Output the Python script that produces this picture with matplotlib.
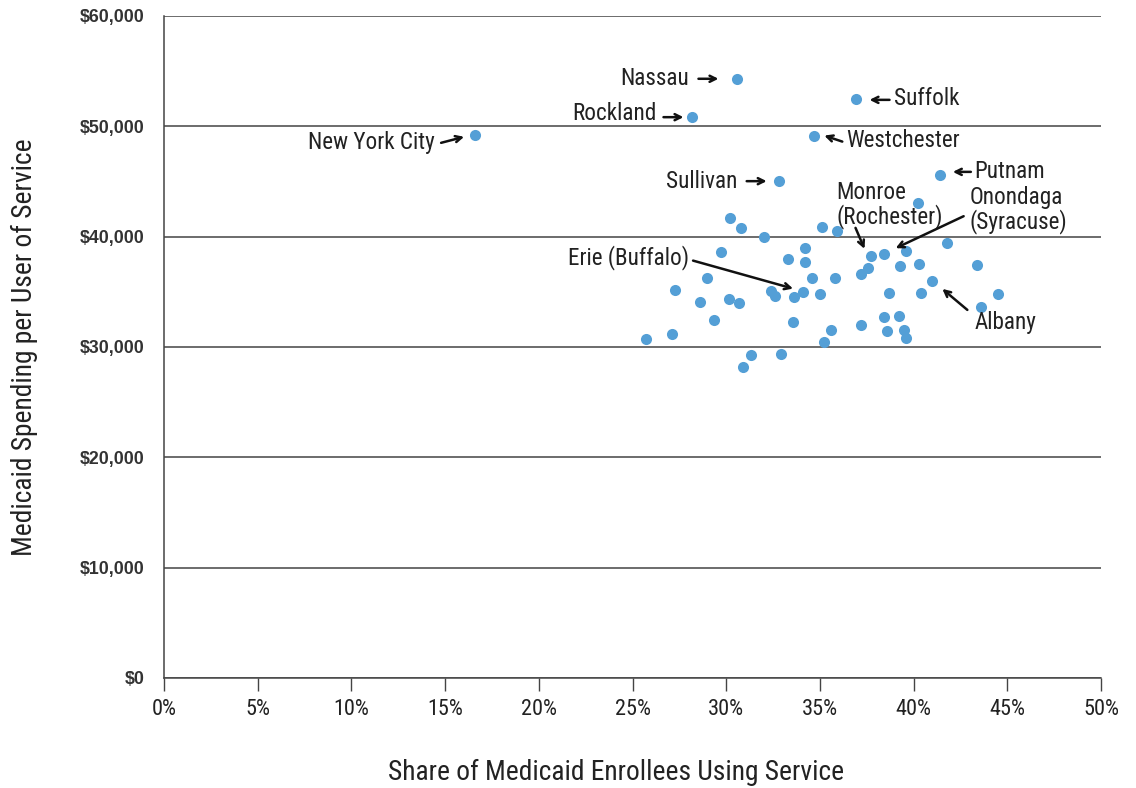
import matplotlib
matplotlib.use('Agg')
import matplotlib.pyplot as plt
from matplotlib import font_manager
from matplotlib.transforms import offset_copy
from matplotlib.ticker import FuncFormatter

# labelled counties: share of enrollees using service (%), spending per user ($)
names = ['New York City', 'Nassau', 'Rockland', 'Suffolk', 'Westchester',
         'Sullivan', 'Putnam', 'Erie (Buffalo)', 'Monroe\n(Rochester)',
         'Onondaga\n(Syracuse)', 'Albany']
named_x = [16.6, 30.6, 28.2, 36.9, 34.7, 32.8, 41.4, 34.1, 37.7, 38.4, 41.0]
named_y = [49230, 54310, 50830, 52490, 49160, 45030, 45600, 35020, 38260, 38410, 35990]

# remaining counties
other_x = [40.25, 30.2, 30.8, 32.0, 35.1, 35.9, 41.8, 29.7, 34.2, 33.3,
           34.2, 39.6, 29.0, 34.6, 35.8, 37.2, 37.55, 39.3, 40.3, 43.4,
           27.25, 32.4, 32.6, 33.6, 35.0, 38.7, 40.4, 44.5, 28.6, 30.15,
           30.7, 43.6, 29.35, 33.55, 38.4, 39.2, 35.6, 37.2, 38.6, 39.5,
           39.6, 25.7, 27.1, 35.2, 31.3, 32.9, 30.9]
other_y = [43040, 41680, 40770, 39950, 40920, 40530, 39470, 38650, 38960, 37990,
           37740, 38740, 36290, 36240, 36290, 36580, 37140, 37350, 37510, 37440,
           35180, 35110, 34630, 34510, 34790, 34880, 34880, 34840, 34060, 34360,
           33970, 33610, 32460, 32280, 32730, 32820, 31550, 31980, 31460, 31520,
           30800, 30760, 31210, 30430, 29260, 29370, 28170]

# placement of labels and arrows, in pixels relative to each dot
text_off = [(-40, -8), (-48, 0), (-36, 4), (38, 0), (32, -5), (-41, 0),
            (34, 3), (-114, 34), (-34, 51), (86, 44), (42, -42)]
text_ha = ['right', 'right', 'right', 'left', 'left', 'right', 'left',
           'right', 'left', 'left', 'left']
arrow_from = [(-34, -8), (-39, 0), (-29, 0), (34, -1), (28, -6), (-32, 0),
              (31, 3), (-110, 31), (-15, 28), (80, 38), (35, -29)]
arrow_to = [(-11, -2), (-19, 0), (-9, 0), (14, -1), (10, 0), (-12, 0),
            (13, 3), (-10, 3), (-6, 7), (12, 6), (10, -8)]

have = {f.name for f in font_manager.fontManager.ttflist}
narrow = 'DejaVu Sans'
for cand in ['Roboto Condensed', 'Liberation Sans Narrow', 'DejaVu Sans Condensed']:
    if cand in have:
        narrow = cand
        break

plt.rcParams['font.family'] = narrow

fig = plt.figure(figsize=(11.36, 7.88), dpi=100)
ax = fig.add_axes([0.1444, 0.1396, 0.8248, 0.8401])
ax.set_xlim(0, 50)
ax.set_ylim(0, 60000)

dot = '#549fd6'
ax.scatter(other_x, other_y, s=64, color=dot, zorder=3, linewidths=0)
ax.scatter(named_x, named_y, s=64, color=dot, zorder=3, linewidths=0)

for i, name in enumerate(names):
    pt = (named_x[i], named_y[i])
    ax.annotate(name, xy=pt, xytext=text_off[i], textcoords='offset pixels',
                ha=text_ha[i], va='center', fontsize=16.7, color='#222222',
                linespacing=1.0)
    head = offset_copy(ax.transData, fig=fig, x=arrow_to[i][0],
                       y=arrow_to[i][1], units='dots')
    tail = offset_copy(ax.transData, fig=fig, x=arrow_from[i][0],
                       y=arrow_from[i][1], units='dots')
    ax.annotate('', xy=pt, xycoords=head, xytext=pt, textcoords=tail,
                arrowprops=dict(arrowstyle='->', color='#111111', lw=1.8,
                                shrinkA=0, shrinkB=0, mutation_scale=11))

ax.set_xticks(range(0, 51, 5))
ax.set_yticks(range(0, 60001, 10000))
ax.xaxis.set_major_formatter(FuncFormatter(lambda v, p: f'{int(v)}%'))
ax.yaxis.set_major_formatter(FuncFormatter(lambda v, p: f'${int(v):,}'))

for lab in ax.get_yticklabels():
    lab.set_fontfamily('Liberation Sans')
    lab.set_fontweight('bold')
ax.tick_params(axis='y', length=0, pad=14, labelsize=12.8, labelcolor='#333333')
ax.tick_params(axis='x', length=9, width=1, direction='out', pad=6,
               labelsize=16, labelcolor='#222222', color='#444444')

ax.grid(axis='y', color='#444444', lw=1.1)
ax.set_axisbelow(True)
for s in ['top', 'right']:
    ax.spines[s].set_visible(False)
for s in ['left', 'bottom']:
    ax.spines[s].set_color('#444444')
    ax.spines[s].set_linewidth(1.1)

ax.set_xlabel('Share of Medicaid Enrollees Using Service', fontsize=19.8,
              color='#222222')
ax.xaxis.set_label_coords(0.482, -0.122)
ax.set_ylabel('Medicaid Spending per User of Service', fontsize=19.8,
              color='#222222')
ax.yaxis.set_label_coords(-0.134, 0.5)

fig.savefig('out.png', dpi=100)
